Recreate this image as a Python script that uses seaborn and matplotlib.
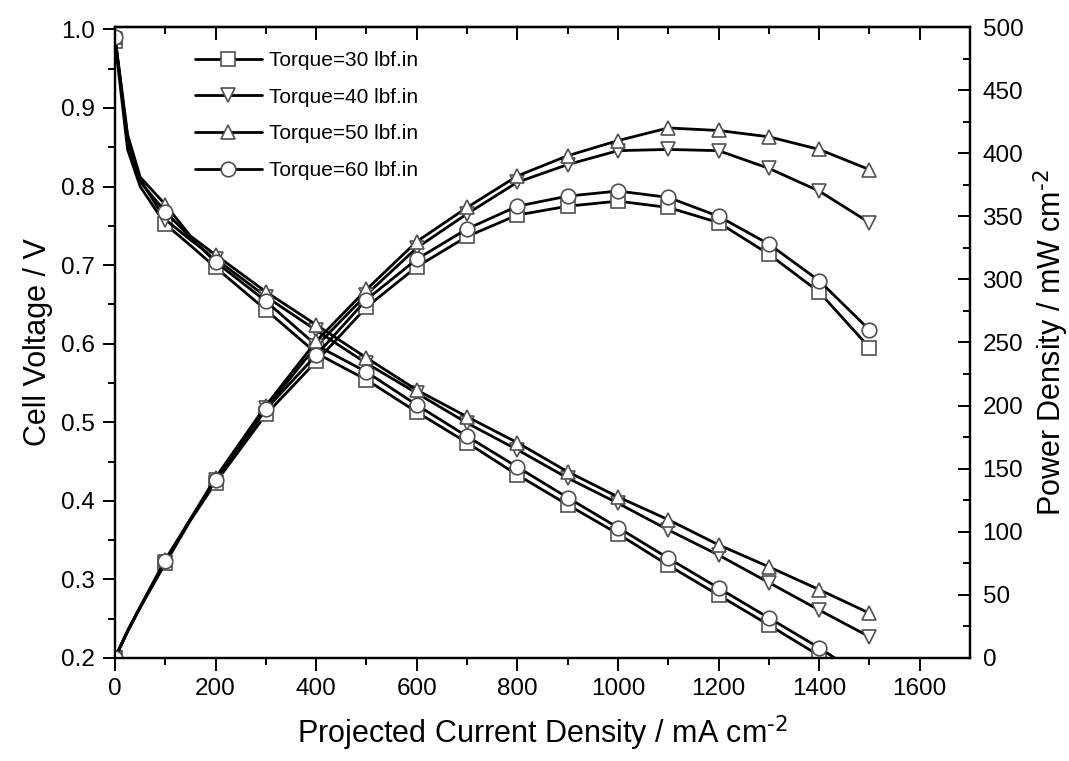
import numpy as np
import pandas as pd
import matplotlib
matplotlib.use('Agg')
import matplotlib.pyplot as plt
import seaborn as sns

sns.set_style('ticks')
plt.rcParams['font.family'] = ['Liberation Sans', 'DejaVu Sans']
plt.rcParams['mathtext.default'] = 'regular'
for key in ['text.color', 'axes.labelcolor', 'xtick.color', 'ytick.color',
            'axes.edgecolor']:
    plt.rcParams[key] = 'black'

# ---- data ----
current = [0, 25, 50, 100, 150, 200, 300, 400, 500, 600, 700, 800,
           900, 1000, 1100, 1200, 1300, 1400, 1500]

labels = ['Torque=30 lbf.in', 'Torque=40 lbf.in',
          'Torque=50 lbf.in', 'Torque=60 lbf.in']
markers = ['s', 'v', '^', 'o']

volt_30 = [0.985, 0.847, 0.800, 0.752, 0.725, 0.697, 0.643, 0.588, 0.554, 0.513,
           0.474, 0.433, 0.395, 0.358, 0.318, 0.280, 0.242, 0.203, 0.163]
volt_40 = [0.988, 0.862, 0.809, 0.758, 0.732, 0.708, 0.660, 0.617, 0.575, 0.537,
           0.499, 0.465, 0.429, 0.397, 0.363, 0.331, 0.296, 0.261, 0.227]
volt_50 = [0.990, 0.866, 0.812, 0.777, 0.737, 0.713, 0.666, 0.624, 0.582, 0.541,
           0.507, 0.474, 0.437, 0.405, 0.376, 0.344, 0.316, 0.287, 0.257]
volt_60 = [0.990, 0.858, 0.806, 0.768, 0.735, 0.704, 0.654, 0.598, 0.564, 0.522,
           0.482, 0.443, 0.404, 0.366, 0.327, 0.289, 0.251, 0.213, 0.171]

power_30 = [0, 21, 40, 75, 109, 139, 193, 235, 278, 310, 334, 351,
            358, 362, 357, 345, 320, 290, 246]
power_40 = [0, 21.5, 40.5, 76, 110, 141, 198, 247, 288, 325, 352, 377,
            391, 402, 403, 402, 388, 370, 345]
power_50 = [0, 21.5, 40.5, 78, 110, 143, 200, 251, 292, 330, 357, 382,
            398, 410, 420, 418, 413, 403, 387]
power_60 = [0, 21, 40, 77, 110, 141, 197, 240, 284, 316, 340, 358,
            366, 370, 365, 350, 328, 299, 260]

volts = [volt_30, volt_40, volt_50, volt_60]
powers = [power_30, power_40, power_50, power_60]

# markers only on the hundreds
mark_idx = [i for i, c in enumerate(current) if c % 100 == 0]

fig = plt.figure(figsize=(10.69, 7.61), dpi=100)
ax = fig.add_axes([0.1076, 0.1354, 0.7998, 0.8291])
ax2 = ax.twinx()

style = dict(color='black', linewidth=2.0, markersize=10.5,
             markerfacecolor='white', markeredgecolor='#505050',
             markeredgewidth=1.2, markevery=mark_idx)

handles = []
for lab, mk, v, p in zip(labels, markers, volts, powers):
    df = pd.DataFrame({'current': current, 'volt': v, 'power': p})
    sns.lineplot(data=df, x='current', y='volt', ax=ax, marker=mk,
                 sort=False, legend=False, **style)
    handles.append(ax.get_lines()[-1])
    sns.lineplot(data=df, x='current', y='power', ax=ax2, marker=mk,
                 sort=False, legend=False, **style)

# axes limits and ticks
ax.set_xlim(0, 1700)
ax.set_ylim(0.2, 1.003)
ax2.set_ylim(0, 500)
ax.set_xticks(np.arange(0, 1700, 200))
ax.set_xticks(np.arange(100, 1700, 200), minor=True)
ax.set_yticks(np.arange(0.2, 1.01, 0.1))
ax.set_yticks(np.arange(0.25, 1.0, 0.1), minor=True)
ax.set_yticklabels([f'{t:.1f}' for t in np.arange(0.2, 1.01, 0.1)])
ax2.set_yticks(np.arange(0, 501, 50))
ax2.set_yticks(np.arange(25, 500, 50), minor=True)

ax.tick_params(axis='both', which='major', direction='out', length=9,
               width=1.4, labelsize=17.5, pad=5.5)
ax.tick_params(axis='both', which='minor', direction='out', length=5,
               width=1.4)
ax.tick_params(axis='y', right=False, which='both')
ax2.tick_params(axis='y', which='major', direction='in', length=9,
                width=1.4, labelsize=17.5, pad=9)
ax2.tick_params(axis='y', which='minor', direction='in', length=5, width=1.4)

top = ax.secondary_xaxis('top')
top.set_xticks(np.arange(0, 1700, 200))
top.set_xticks(np.arange(100, 1700, 200), minor=True)
top.tick_params(which='major', direction='in', length=9, width=1.4,
                labeltop=False)
top.tick_params(which='minor', direction='in', length=5, width=1.4)

for a in (ax, ax2):
    for s in a.spines.values():
        s.set_linewidth(1.6)
        s.set_color('black')
top.spines['top'].set_linewidth(1.6)

ax.set_xlabel('Projected Current Density / mA cm$^{\\text{-2}}$', fontsize=22,
              labelpad=10)
ax.set_ylabel('Cell Voltage / V', fontsize=22, labelpad=6)
ax2.set_ylabel('Power Density / mW cm$^{\\text{-2}}$', fontsize=22, labelpad=6)

leg = ax.legend(handles, labels, loc='upper left',
                bbox_to_anchor=(0.0936, 0.962), frameon=False, fontsize=15,
                handlelength=3.2, handletextpad=0.35, labelspacing=0.85,
                borderpad=0, borderaxespad=0)

fig.savefig('out.png', dpi=100)
